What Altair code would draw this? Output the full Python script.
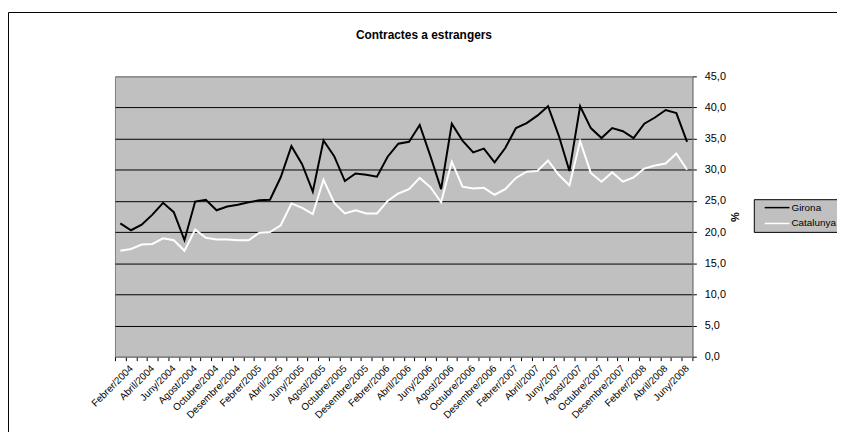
import altair as alt
import pandas as pd

month_names = ["Gener", "Febrer", "Març", "Abril", "Maig", "Juny", "Juliol",
               "Agost", "Setembre", "Octubre", "Novembre", "Desembre"]
periods = [f"{m}/{y}" for y in range(2004, 2009) for m in month_names][:54]
labelled_months = ["Febrer", "Abril", "Juny", "Agost", "Octubre", "Desembre"]

series_names = ["Girona", "Catalunya"]
series_colors = ["black", "white"]

girona = [21.4, 20.3, 21.2, 22.8, 24.7, 23.2, 18.7, 24.9, 25.2, 23.5,
          24.1, 24.4, 24.8, 25.1, 25.2, 28.8, 33.8, 30.9, 26.5, 34.7,
          32.2, 28.2, 29.4, 29.2, 28.9, 32.1, 34.2, 34.5, 37.2, 32.2,
          26.9, 37.4, 34.7, 32.8, 33.4, 31.2, 33.5, 36.7, 37.5, 38.7,
          40.2, 35.5, 29.8, 40.2, 36.7, 35.1, 36.7, 36.2, 35.1, 37.4,
          38.4, 39.6, 39.1, 34.5]
catalunya = [17.0, 17.3, 18.0, 18.1, 19.0, 18.7, 17.0, 20.4, 19.1, 18.8,
             18.8, 18.7, 18.7, 19.9, 20.0, 21.1, 24.6, 23.9, 22.9, 28.4,
             24.7, 23.0, 23.5, 23.0, 23.0, 25.0, 26.2, 26.9, 28.7, 27.2,
             24.8, 31.3, 27.3, 27.0, 27.1, 26.0, 26.9, 28.7, 29.7, 29.8,
             31.5, 29.2, 27.5, 34.6, 29.5, 28.1, 29.6, 28.1, 28.8, 30.2,
             30.7, 31.0, 32.6, 30.0]

y_ticks = [0, 5, 10, 15, 20, 25, 30, 35, 40, 45]
chart_title = "Contractes a estrangers"
y_title = "%"

rows = []
for name, vals in zip(series_names, [girona, catalunya]):
    for p, v in zip(periods, vals):
        rows.append({"period": p, "series": name, "value": v})
df = pd.DataFrame(rows)

FONT = "Liberation Sans"
one = pd.DataFrame({"k": [0]})

label_expr = ("indexof(" + str(labelled_months).replace('"', "'") +
              ", split(datum.value, '/')[0]) >= 0 ? datum.value : ''")

lines = alt.Chart(df).mark_line(strokeWidth=2).encode(
    x=alt.X("period:N", sort=periods, bandPosition=0.5,
            scale=alt.Scale(type="band", paddingInner=0, paddingOuter=0),
            axis=alt.Axis(title=None, labelAngle=-45, labelAlign="right",
                          labelBaseline="middle", labelExpr=label_expr,
                          labelOverlap=False, tickBand="extent", tickSize=4,
                          tickColor="black", domainColor="#808080",
                          labelFont=FONT, labelFontSize=10, labelPadding=6,
                          labelColor="black", grid=False, labelBound=False)),
    y=alt.Y("value:Q", scale=alt.Scale(domain=[0, 45], nice=False, zero=True),
            axis=alt.Axis(orient="right", values=y_ticks,
                          labelExpr="replace(format(datum.value, '.1f'), '.', ',')",
                          grid=True,
                          gridColor={"condition": {"test": "datum.value == 0 || datum.value == 45",
                                                   "value": "#808080"}, "value": "black"},
                          gridWidth=1, gridOpacity=1,
                          tickColor="black", tickSize=4, domainColor="#808080",
                          labelFont=FONT, labelFontSize=11, labelPadding=8,
                          labelColor="black",
                          title=y_title, titleAngle=90, titleFont=FONT,
                          titleFontSize=11, titleFontWeight="bold",
                          titlePadding=3, titleColor="black")),
    color=alt.Color("series:N", scale=alt.Scale(domain=series_names, range=series_colors),
                    legend=None),
    detail="series:N",
)

border = alt.Chart(one).mark_rect(fill="transparent", stroke="black", strokeWidth=1).encode(
    x=alt.value(-107.5), x2=alt.value(1200), y=alt.value(-64.5), y2=alt.value(1200))

title = alt.Chart(one).mark_text(font=FONT, fontSize=12, fontWeight="bold",
                                 align="center", baseline="middle", color="black").encode(
    x=alt.value(312), y=alt.value(-42), text=alt.value(chart_title))

legend_box = alt.Chart(one).mark_rect(fill="#C0C0C0", stroke="black", strokeWidth=1).encode(
    x=alt.value(645.5), x2=alt.value(760), y=alt.value(124.5), y2=alt.value(157.5))

leg_line1 = alt.Chart(one).mark_rule(color=series_colors[0], strokeWidth=1.5).encode(
    x=alt.value(656), x2=alt.value(681), y=alt.value(132.5))
leg_line2 = alt.Chart(one).mark_rule(color=series_colors[1], strokeWidth=1.5).encode(
    x=alt.value(656), x2=alt.value(681), y=alt.value(148.5))
leg_text1 = alt.Chart(one).mark_text(font=FONT, fontSize=10, align="left",
                                     baseline="middle", color="black").encode(
    x=alt.value(683), y=alt.value(132.5), text=alt.value(series_names[0]))
leg_text2 = alt.Chart(one).mark_text(font=FONT, fontSize=10, align="left",
                                     baseline="middle", color="black").encode(
    x=alt.value(683), y=alt.value(148.5), text=alt.value(series_names[1]))

chart = alt.layer(
    border, lines, title, legend_box, leg_line1, leg_line2, leg_text1, leg_text2
).properties(
    width=583, height=283,
    padding={"left": 108, "top": 67, "right": 146, "bottom": 74},
    autosize=alt.AutoSizeParams(type="none"),
    background="white",
).configure_view(
    fill="#C0C0C0", stroke="#808080", strokeWidth=1
)

chart.save("out.html", embed_options={"renderer": "svg", "actions": False})
